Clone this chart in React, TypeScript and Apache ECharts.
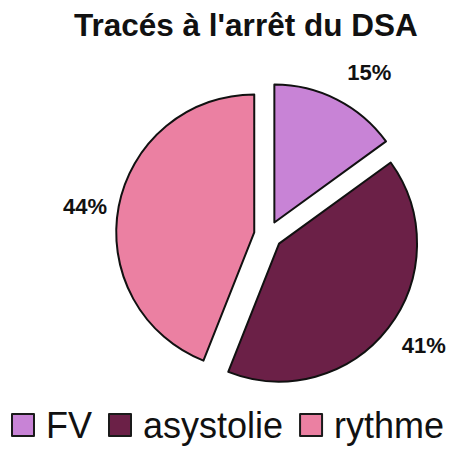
import React, { useEffect, useRef } from "react";
import * as echarts from "echarts";

const categories = ["FV", "asystolie", "rythme"];
const values = [15, 41, 44];
const colors = ["#C883D6", "#6B2047", "#EB80A2"];
const labelShifts: [number, number][] = [[-6, -5], [-11, 2], [18, 5]];

const FONT = "'Liberation Sans', Arial, Helvetica, sans-serif";

export default function App() {
  const ref = useRef<HTMLDivElement>(null);
  useEffect(() => {
    if (!ref.current) return;
    const chart = echarts.init(ref.current, undefined, { renderer: "svg" });
    chart.setOption({
      animation: false,
      backgroundColor: "#ffffff",
      title: {
        text: "Tracés à l'arrêt du DSA",
        left: 69,
        top: 4,
        textStyle: { fontFamily: FONT, fontSize: 31.5, fontWeight: "bold", color: "#111" },
      },
      legend: {
        data: categories,
        left: 11,
        top: 407,
        padding: 0,
        width: 440,
        icon: "rect",
        itemWidth: 22,
        itemHeight: 22,
        itemGap: 16,
        itemStyle: { borderColor: "#1a1a1a", borderWidth: 2 },
        textStyle: { fontFamily: FONT, fontSize: 36, color: "#111", padding: [0, 0, 0, 7] },
      },
      series: [
        {
          type: "pie",
          center: [268, 235],
          radius: 138,
          startAngle: 90,
          clockwise: true,
          selectedMode: "multiple",
          selectedOffset: 14,
          avoidLabelOverlap: false,
          emphasis: { disabled: true },
          itemStyle: { borderColor: "#111", borderWidth: 2 },
          select: { itemStyle: { borderColor: "#111", borderWidth: 2 } },
          labelLine: { show: false, length: 25, length2: 0 },
          labelLayout: (params: any) => {
            const s = labelShifts[params.dataIndex] || [0, 0];
            return { dx: s[0], dy: s[1] };
          },
          label: {
            show: true,
            position: "outside",
            formatter: "{d}%",
            fontFamily: FONT,
            fontSize: 22,
            fontWeight: "bold",
            color: "#111",
          },
          data: categories.map((name, i) => ({
            name,
            value: values[i],
            selected: true,
            itemStyle: { color: colors[i] },
            select: { itemStyle: { color: colors[i] } },
          })),
        },
      ],
    });
    return () => chart.dispose();
  }, []);
  return (
    <div
      ref={ref}
      style={{ position: "fixed", left: 0, top: 0, width: 451, height: 453 }}
    />
  );
}
